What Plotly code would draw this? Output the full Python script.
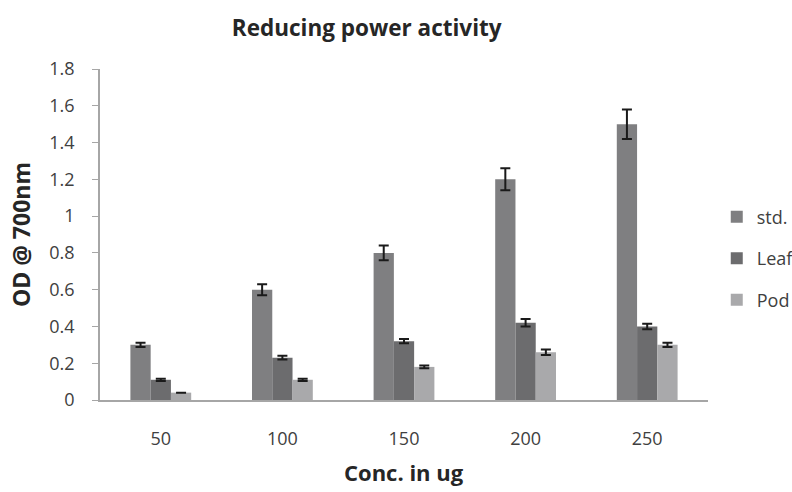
import plotly.graph_objects as go

# Concentrations (ug) and OD @ 700nm readings with their error margins
concentrations = ["50", "100", "150", "200", "250"]
std_values = [0.30, 0.60, 0.80, 1.20, 1.50]
std_errors = [0.012, 0.03, 0.04, 0.06, 0.08]
leaf_values = [0.11, 0.23, 0.32, 0.42, 0.40]
leaf_errors = [0.006, 0.01, 0.012, 0.02, 0.015]
pod_values = [0.04, 0.11, 0.18, 0.26, 0.30]
pod_errors = [0.0, 0.006, 0.008, 0.015, 0.012]
y_ticks = [0, 0.2, 0.4, 0.6, 0.8, 1, 1.2, 1.4, 1.6, 1.8]

font_family = "Open Sans, Liberation Sans, sans-serif"
series = [
    ("std.", std_values, std_errors, "#7f7f81"),
    ("Leaf", leaf_values, leaf_errors, "#6c6c6e"),
    ("Pod", pod_values, pod_errors, "#a9a9ab"),
]

fig = go.Figure()
for i, (name, vals, errs, color) in enumerate(series):
    fig.add_trace(go.Bar(
        name=name,
        x=concentrations,
        y=vals,
        marker=dict(color=color, line=dict(width=0)),
        error_y=dict(type="data", array=errs, visible=True,
                     color="#1a1a1a", thickness=2, width=5),
        legendgroup=f"g{i}",
    ))

fig.update_layout(
    width=792, height=492,
    paper_bgcolor="white", plot_bgcolor="white",
    margin=dict(l=100, r=84, t=69, b=92, autoexpand=False),
    barmode="group", bargap=0.5, bargroupgap=0,
    font=dict(family=font_family, color="#404040", size=18),
    title=dict(text="<b>Reducing power activity</b>",
               x=0.463, xanchor="center", y=0.943, yanchor="middle",
               font=dict(size=22.5, color="#262626")),
    legend=dict(xref="container", x=0.905, xanchor="left",
                y=0.427, yanchor="middle",
                traceorder="grouped", tracegroupgap=15,
                font=dict(size=18, color="#404040"),
                itemwidth=30, bgcolor="rgba(0,0,0,0)"),
    xaxis=dict(
        automargin=False,
        showline=True, linecolor="#a6a6a6", linewidth=1.5,
        ticks="", ticklabelstandoff=22,
    ),
    yaxis=dict(
        automargin=False,
        range=[0, 1.8], tickvals=y_ticks,
        ticktext=[f"{v:g}" for v in y_ticks],
        showgrid=False, zeroline=False,
        showline=True, linecolor="#a6a6a6", linewidth=1.5,
        ticks="outside", ticklen=6, tickcolor="#a6a6a6",
        ticklabelstandoff=14,
        title=dict(text="<b>OD @ 700nm</b>", standoff=12,
                   font=dict(size=23, color="#262626")),
    ),
    # x-axis title, sitting low near the bottom edge
    annotations=[dict(
        text="<b>Conc. in ug</b>", xref="paper", yref="paper",
        x=0.5, y=-0.218, xanchor="center", yanchor="middle",
        showarrow=False, font=dict(size=22, color="#262626"),
    )],
)

fig.write_html("out.html")
